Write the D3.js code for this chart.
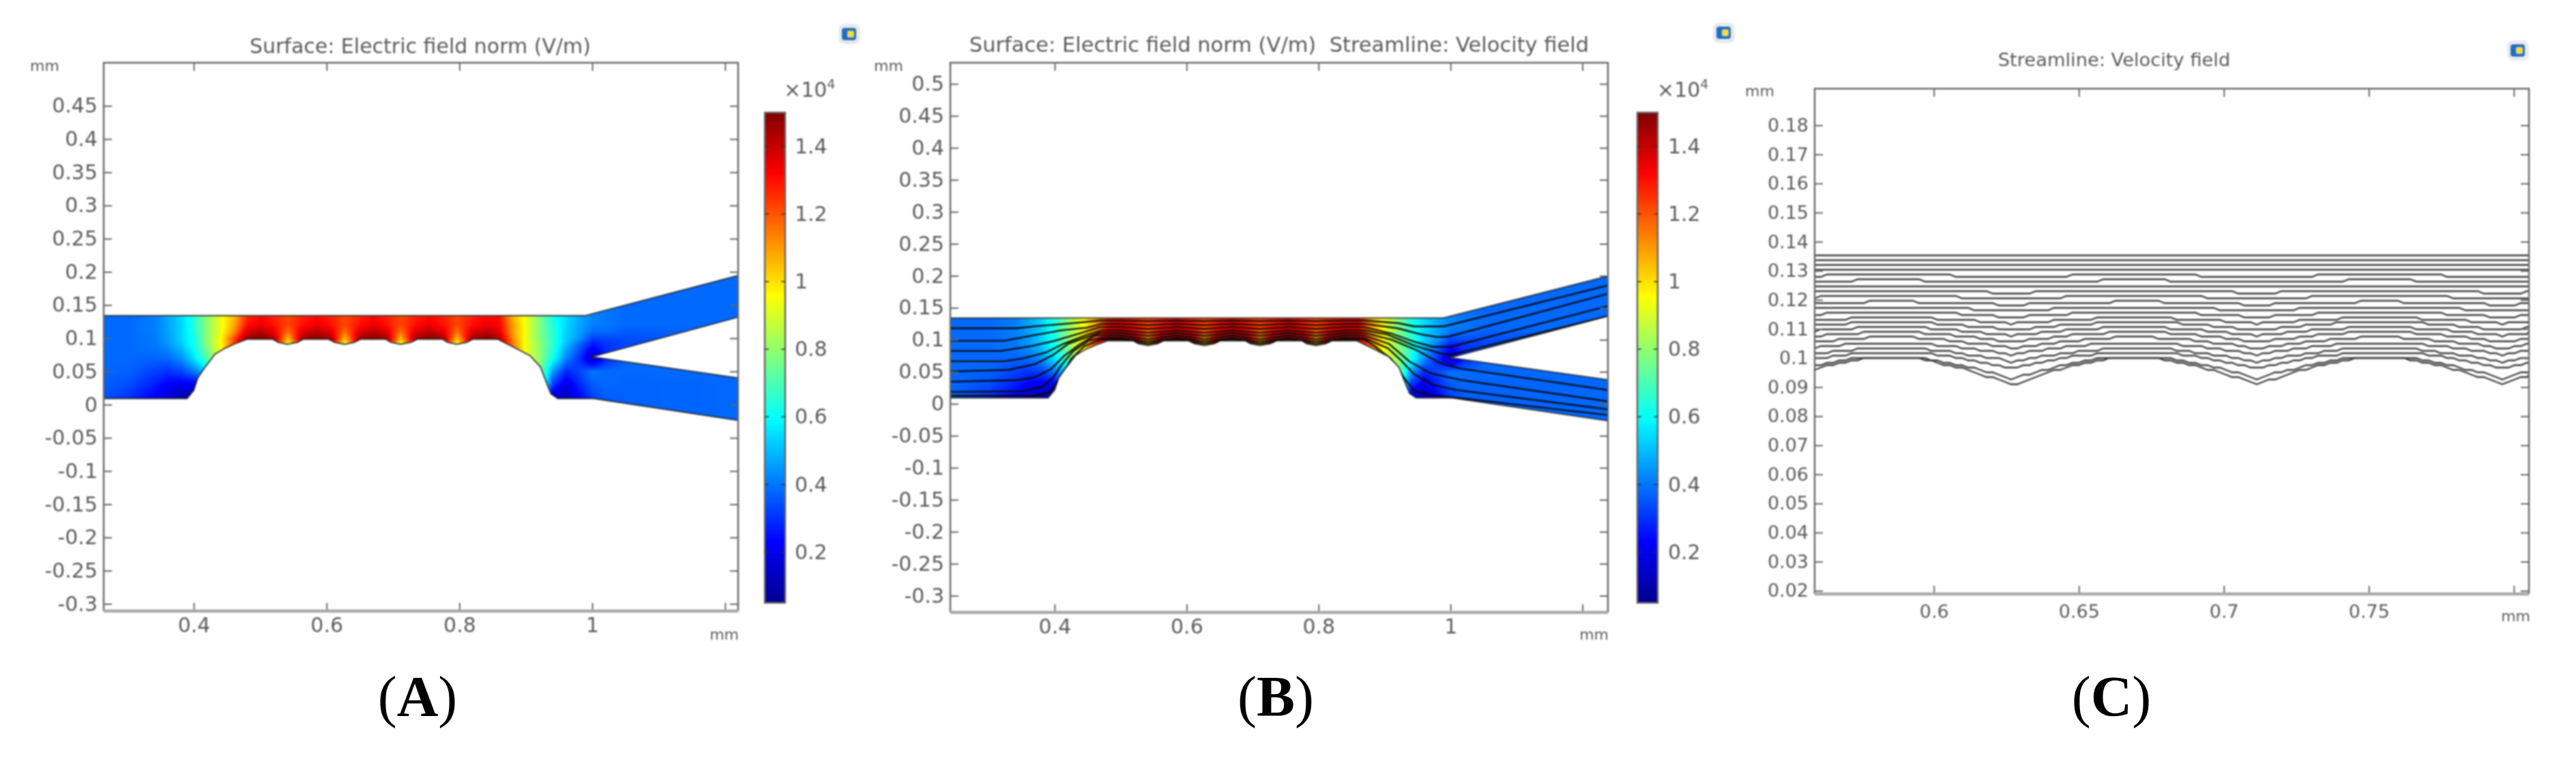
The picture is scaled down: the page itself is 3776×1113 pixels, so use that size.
<!DOCTYPE html>
<html>
<head>
<meta charset="utf-8">
<script src="https://cdn.jsdelivr.net/npm/d3@7"></script>
<style>
  html, body { margin: 0; background: #fff; }
  text { font-family: "DejaVu Sans", sans-serif; fill: #5c5c5c; }
  .soft { filter: blur(0.8px); }
  .label text { font-family: "Liberation Serif", serif; fill: #000; }
</style>
</head>
<body>
<svg id="chart" width="3776" height="1113"></svg>
<script>
// tick labels
var ticksXA = [0.4, 0.6, 0.8, 1, 1.2];
var ticksYA = [0.45, 0.4, 0.35, 0.3, 0.25, 0.2, 0.15, 0.1, 0.05, 0, -0.05, -0.1, -0.15, -0.2, -0.25, -0.3];
var ticksYB = [0.5].concat(ticksYA);
var ticksXC = [0.6, 0.65, 0.7, 0.75, 0.8];
var ticksYC = [0.18, 0.17, 0.16, 0.15, 0.14, 0.13, 0.12, 0.11, 0.1, 0.09, 0.08, 0.07, 0.06, 0.05, 0.04, 0.03, 0.02];
var ticksBar = [0.2, 0.4, 0.6, 0.8, 1, 1.2, 1.4];

// colour table, values in 10^4 V/m
var barStops = [0.05, 0.231, 0.594, 0.956, 1.319, 1.5];
var barColors = ["#00008f", "#0000ff", "#00ffff", "#ffff00", "#ff0000", "#800000"];

// channel outline in mm
var channelOutline = [
  [0.24, 0.134], [0.989, 0.134], [1.2387, 0.1996], [1.2387, 0.137], [0.9995, 0.072],
  [1.2387, 0.0374], [1.2387, -0.0265], [1.002, 0.0092], [0.948, 0.0092], [0.938, 0.016],
  [0.933, 0.028], [0.922, 0.057], [0.906, 0.074], [0.879, 0.088], [0.858, 0.0985],
  [0.82, 0.0985], [0.811, 0.094], [0.796, 0.091], [0.782, 0.094], [0.775, 0.0985],
  [0.7365, 0.0985], [0.727, 0.094], [0.711, 0.091], [0.697, 0.094], [0.689, 0.0985],
  [0.651, 0.0985], [0.642, 0.094], [0.627, 0.091], [0.612, 0.094], [0.603, 0.0985],
  [0.565, 0.0985], [0.556, 0.094], [0.5415, 0.091], [0.527, 0.094], [0.519, 0.0985],
  [0.48, 0.0985], [0.465, 0.093], [0.447, 0.085], [0.432, 0.076], [0.416, 0.055],
  [0.406, 0.04], [0.4, 0.0215], [0.39, 0.0092], [0.24, 0.0092]
];

// field table: one column per fieldX, one entry per fieldY
var fieldY = [-0.03, 0.01, 0.03, 0.05, 0.07, 0.09, 0.095, 0.1, 0.11, 0.12, 0.135, 0.2];
var colBump = [0.85, 0.85, 0.85, 0.85, 0.85, 0.85, 0.98, 1.05, 1.16, 1.22, 1.22, 1.22];
var colEdge = [1.4, 1.4, 1.4, 1.4, 1.4, 1.35, 1.4, 1.45, 1.36, 1.3, 1.27, 1.27];
var colFlat = [1.5, 1.5, 1.5, 1.5, 1.5, 1.5, 1.5, 1.5, 1.42, 1.35, 1.3, 1.3];
var fieldX = [0.24, 0.3, 0.34, 0.36, 0.38, 0.4, 0.42, 0.44, 0.46, 0.48, 0.5, 0.519, 0.5415, 0.563, 0.585, 0.606, 0.627, 0.649, 0.669, 0.69, 0.711, 0.733, 0.754, 0.775, 0.796, 0.818, 0.84, 0.86, 0.88, 0.9, 0.92, 0.94, 0.96, 0.98, 1, 1.02, 1.05, 1.25];
var fieldColumns = [
  [0.38, 0.38, 0.38, 0.38, 0.38, 0.38, 0.38, 0.38, 0.38, 0.38, 0.38, 0.38],
  [0.3, 0.3, 0.34, 0.37, 0.38, 0.38, 0.38, 0.38, 0.38, 0.38, 0.38, 0.38],
  [0.22, 0.22, 0.27, 0.32, 0.37, 0.4, 0.4, 0.4, 0.41, 0.41, 0.41, 0.41],
  [0.16, 0.17, 0.22, 0.3, 0.38, 0.44, 0.45, 0.45, 0.46, 0.46, 0.47, 0.47],
  [0.1, 0.1, 0.2, 0.32, 0.43, 0.51, 0.52, 0.53, 0.53, 0.53, 0.54, 0.54],
  [0.08, 0.08, 0.2, 0.4, 0.55, 0.62, 0.62, 0.62, 0.64, 0.64, 0.65, 0.65],
  [0.3, 0.3, 0.3, 0.52, 0.72, 0.78, 0.8, 0.8, 0.8, 0.8, 0.8, 0.8],
  [0.8, 0.8, 0.8, 0.8, 0.93, 0.95, 0.95, 0.95, 0.93, 0.93, 0.93, 0.93],
  [1.2, 1.2, 1.2, 1.2, 1.2, 1.22, 1.22, 1.22, 1.12, 1.08, 1.05, 1.05],
  [1.45, 1.45, 1.45, 1.45, 1.45, 1.45, 1.45, 1.48, 1.38, 1.3, 1.26, 1.26],
  colFlat, colEdge, colBump, colEdge, colFlat, colEdge, colBump, colEdge, colFlat,
  colEdge, colBump, colEdge, colFlat, colEdge, colBump, colEdge, colFlat,
  [1.42, 1.42, 1.42, 1.42, 1.42, 1.42, 1.42, 1.42, 1.35, 1.32, 1.3, 1.3],
  [1.15, 1.15, 1.15, 1.15, 1.15, 1.15, 1.14, 1.12, 1.1, 1.1, 1.05, 1.05],
  [0.93, 0.93, 0.93, 0.93, 0.93, 0.93, 0.93, 0.93, 0.93, 0.93, 0.92, 0.92],
  [0.8, 0.8, 0.8, 0.8, 0.8, 0.8, 0.8, 0.78, 0.78, 0.78, 0.78, 0.78],
  [0.12, 0.14, 0.3, 0.45, 0.62, 0.66, 0.66, 0.66, 0.65, 0.64, 0.62, 0.62],
  [0.12, 0.12, 0.18, 0.28, 0.42, 0.5, 0.52, 0.52, 0.53, 0.54, 0.54, 0.54],
  [0.22, 0.22, 0.28, 0.33, 0.3, 0.37, 0.4, 0.44, 0.46, 0.47, 0.47, 0.47],
  [0.32, 0.32, 0.36, 0.4, 0.12, 0.25, 0.28, 0.32, 0.38, 0.41, 0.42, 0.42],
  [0.36, 0.36, 0.38, 0.38, 0.28, 0.3, 0.31, 0.33, 0.38, 0.4, 0.4, 0.4],
  [0.37, 0.37, 0.37, 0.38, 0.38, 0.33, 0.33, 0.34, 0.36, 0.38, 0.38, 0.38],
  [0.38, 0.38, 0.38, 0.38, 0.38, 0.38, 0.38, 0.38, 0.38, 0.38, 0.38, 0.38]
];

// panel B streamlines in mm: inlet part, throat part, outlet part
var streamInlet = [
  [[0.24, 0.118], [0.342, 0.118], [0.37, 0.121], [0.411, 0.1245], [0.437, 0.127], [0.469, 0.13]],
  [[0.24, 0.0985], [0.323, 0.0985], [0.37, 0.1075], [0.411, 0.115], [0.449, 0.119], [0.472, 0.125]],
  [[0.24, 0.0825], [0.318, 0.0825], [0.366, 0.0905], [0.4, 0.0985], [0.435, 0.109], [0.469, 0.12]],
  [[0.24, 0.0665], [0.323, 0.0665], [0.352, 0.071], [0.386, 0.08], [0.414, 0.094], [0.449, 0.108], [0.472, 0.115]],
  [[0.24, 0.0505], [0.33, 0.053], [0.37, 0.062], [0.397, 0.076], [0.421, 0.094], [0.452, 0.105], [0.469, 0.111]],
  [[0.24, 0.0345], [0.344, 0.037], [0.37, 0.0415], [0.394, 0.054], [0.414, 0.0745], [0.438, 0.093], [0.462, 0.107]],
  [[0.24, 0.0185], [0.35, 0.0195], [0.38, 0.0265], [0.397, 0.04], [0.411, 0.0615], [0.428, 0.082], [0.452, 0.099], [0.47, 0.103]],
  [[0.24, 0.0125], [0.37, 0.0125], [0.392, 0.018], [0.408, 0.04], [0.425, 0.07], [0.445, 0.09], [0.47, 0.1005]]
];
var throatX = [0.5, 0.5415, 0.585, 0.627, 0.669, 0.711, 0.754, 0.796, 0.84];
var throatFlat = [0.13, 0.125, 0.12, 0.115, 0.111, 0.107, 0.103, 0.1005];
var throatDip = [0.129, 0.123, 0.117, 0.111, 0.106, 0.101, 0.097, 0.0935];
var streamOutlet = [
  [[0.869, 0.13], [0.921, 0.126], [0.945, 0.121], [0.99, 0.121], [1.2387, 0.185]],
  [[0.869, 0.125], [0.92, 0.118], [0.955, 0.1085], [0.9795, 0.1043], [0.997, 0.105], [1.2387, 0.172]],
  [[0.869, 0.12], [0.91, 0.11], [0.945, 0.097], [0.973, 0.089], [1, 0.089], [1.2387, 0.1529]],
  [[0.869, 0.115], [0.905, 0.108], [0.945, 0.091], [0.9865, 0.0783], [1, 0.0766], [1.2387, 0.137]],
  [[0.869, 0.111], [0.911, 0.1], [0.949, 0.0837], [0.983, 0.064], [1.014, 0.0552], [1.2387, 0.0214]],
  [[0.869, 0.107], [0.907, 0.0935], [0.938, 0.0659], [0.969, 0.048], [1.014, 0.0374], [1.2387, 0.0037]],
  [[0.869, 0.103], [0.905, 0.087], [0.925, 0.068], [0.945, 0.046], [0.975, 0.029], [1.01, 0.0215], [1.2387, -0.0088]],
  [[0.869, 0.1005], [0.885, 0.09], [0.91, 0.07], [0.93, 0.04], [0.945, 0.02], [0.97, 0.0135], [1.01, 0.0095], [1.2387, -0.0177]]
];

// panel C streamlines: height over the flat part of the wall and at the cusps
var zoomFlat = [0.1349, 0.1337, 0.132, 0.13, 0.1285, 0.1267, 0.1249, 0.123, 0.1213, 0.1193, 0.1176, 0.1158, 0.1138, 0.1123, 0.1105, 0.1088, 0.107, 0.1052, 0.1033, 0.102, 0.1004, 0.1];
var zoomCusp = [0.1349, 0.1339, 0.132, 0.13, 0.1279, 0.1263, 0.1244, 0.1224, 0.1203, 0.1182, 0.1161, 0.1139, 0.1118, 0.1095, 0.1076, 0.1054, 0.1033, 0.101, 0.0987, 0.0964, 0.0927, 0.0906];
var cuspX = [0.5425, 0.627, 0.7115, 0.796];
var dipOffset = [0, 0.005, 0.01, 0.02, 0.03, 0.0345];
var dipWeight = [1, 0.78, 0.62, 0.3, 0.08, 0];

var svg = d3.select("#chart");
var jet = d3.scaleLinear().domain(barStops).range(barColors).clamp(true);
var fmt = function(d) { return String(d); };

function fieldAt(xv, yv) {
  var i = Math.max(0, Math.min(fieldX.length - 2, d3.bisectRight(fieldX, xv) - 1));
  var j = Math.max(0, Math.min(fieldY.length - 2, d3.bisectRight(fieldY, yv) - 1));
  var tx = (xv - fieldX[i]) / (fieldX[i + 1] - fieldX[i]);
  var ty = (yv - fieldY[j]) / (fieldY[j + 1] - fieldY[j]);
  var a = fieldColumns[i][j] * (1 - ty) + fieldColumns[i][j + 1] * ty;
  var b = fieldColumns[i + 1][j] * (1 - ty) + fieldColumns[i + 1][j + 1] * ty;
  return a * (1 - tx) + b * tx;
}

function drawFrame(g, box, x, y, xTicks, yTicks, fontSize) {
  // the last x tick sits under the "mm" unit and carries no number
  var lastX = xTicks[xTicks.length - 1];
  var xFmt = function(d) { return d === lastX ? "" : fmt(d); };

  g.append("g").attr("transform", "translate(" + box.left + ",0)")
    .call(d3.axisLeft(y).tickValues(yTicks).tickSize(-12).tickPadding(9).tickFormat(fmt));
  g.append("g").attr("transform", "translate(" + box.right + ",0)")
    .call(d3.axisRight(y).tickValues(yTicks).tickSize(-12).tickFormat(""));
  g.append("g").attr("transform", "translate(0," + box.bottom + ")")
    .call(d3.axisBottom(x).tickValues(xTicks).tickSize(-12).tickPadding(box.xLabelGap).tickFormat(xFmt));
  g.append("g").attr("transform", "translate(0," + box.top + ")")
    .call(d3.axisTop(x).tickValues(xTicks).tickSize(-12).tickFormat(""));
  g.selectAll(".domain").remove();
  g.selectAll(".tick line").attr("stroke", "#666").attr("stroke-width", 2);
  g.selectAll(".tick text").style("font-size", fontSize + "px").attr("fill", "#5c5c5c");

  g.append("path")
    .attr("d", "M" + box.left + "," + box.bottom + "V" + box.top + "H" + box.right + "V" + box.bottom)
    .attr("fill", "none").attr("stroke", "#6a6a6a").attr("stroke-width", 2.5);
  g.append("line")
    .attr("x1", box.left).attr("x2", box.right).attr("y1", box.bottom).attr("y2", box.bottom)
    .attr("stroke", "#a8a8a8").attr("stroke-width", 4.5);
}

function drawIcon(g, cx, cy) {
  g.append("rect").attr("x", cx - 16).attr("y", cy - 15).attr("width", 32).attr("height", 30).attr("rx", 9).attr("fill", "#e8eaee");
  g.append("rect").attr("x", cx - 11).attr("y", cy - 9).attr("width", 21).attr("height", 18).attr("rx", 4).attr("fill", "#1d6fc4");
  g.append("rect").attr("x", cx - 3).attr("y", cy - 5).attr("width", 10).attr("height", 10).attr("rx", 2).attr("fill", "#f2d94e");
}

function drawColorbar(g, id, left, right, labelX, expX) {
  var bar = d3.scaleLinear().domain([0.05, 1.5]).range([884, 165]);
  var grad = svg.append("defs").append("linearGradient").attr("id", id)
    .attr("x1", 0).attr("x2", 0).attr("y1", 1).attr("y2", 0);
  barStops.forEach(function(v, i) {
    grad.append("stop").attr("offset", (v - 0.05) / 1.45).attr("stop-color", barColors[i]);
  });
  g.append("rect").attr("x", left).attr("y", bar(1.5)).attr("width", right - left).attr("height", bar(0.05) - bar(1.5))
    .attr("fill", "url(#" + id + ")").attr("stroke", "#666").attr("stroke-width", 2.5);
  var ax = g.append("g").attr("transform", "translate(" + right + ",0)")
    .call(d3.axisRight(bar).tickValues(ticksBar).tickSize(0).tickPadding(labelX - right).tickFormat(fmt));
  ax.select(".domain").remove();
  ax.selectAll("text").style("font-size", "30px");
  g.selectAll(".barTick").data(ticksBar).enter().append("path").attr("class", "barTick")
    .attr("d", function(d) { return "M" + left + "," + bar(d) + "h6M" + right + "," + bar(d) + "h-6"; })
    .attr("stroke", "#333").attr("stroke-width", 1.5);
  var t = g.append("text").attr("x", expX).attr("y", 142).style("font-size", "30px");
  t.append("tspan").text("\u00d710");
  t.append("tspan").attr("dy", -12).style("font-size", "19px").text("4");
}

function drawFieldPanel(id, box, yTicks, title, titleX, titleY, titleSize, bar, withStreams) {
  var g = svg.append("g").attr("class", "soft");
  var x = d3.scaleLinear().domain(box.xDomain).range([box.left, box.right]);
  var y = d3.scaleLinear().domain(box.yDomain).range([box.bottom, box.top]);

  // paint the field from the table, pixel by pixel through the scales
  var w = box.right - box.left, h = box.bottom - box.top;
  var canvas = document.createElement("canvas");
  canvas.width = w; canvas.height = h;
  var ctx = canvas.getContext("2d");
  var img = ctx.createImageData(w, h);
  for (var py = 0; py < h; py++) {
    var yv = y.invert(box.top + py);
    if (yv < -0.03 || yv > 0.2) continue;
    for (var px = 0; px < w; px++) {
      var c = d3.rgb(jet(fieldAt(x.invert(box.left + px), yv)));
      var k = (py * w + px) * 4;
      img.data[k] = c.r; img.data[k + 1] = c.g; img.data[k + 2] = c.b; img.data[k + 3] = 255;
    }
  }
  ctx.putImageData(img, 0, 0);

  var outline = d3.line().x(function(d) { return x(d[0]); }).y(function(d) { return y(d[1]); });
  var defs = svg.append("defs");
  defs.append("clipPath").attr("id", id + "-domain").append("path").attr("d", outline(channelOutline) + "Z");
  defs.append("clipPath").attr("id", id + "-box").append("rect").attr("x", box.left).attr("y", box.top).attr("width", w).attr("height", h);

  var plot = g.append("g").attr("clip-path", "url(#" + id + "-box)");
  plot.append("g").attr("clip-path", "url(#" + id + "-domain)").append("image")
    .attr("x", box.left).attr("y", box.top).attr("width", w).attr("height", h)
    .attr("href", canvas.toDataURL());
  plot.append("path").attr("d", outline(channelOutline) + "Z").attr("fill", "none")
    .attr("stroke", "#222").attr("stroke-opacity", 0.75).attr("stroke-width", 2.2);

  if (withStreams) {
    var lines = plot.append("g").attr("clip-path", "url(#" + id + "-domain)");
    streamInlet.forEach(function(inlet, i) {
      var throat = throatX.map(function(tx, j) { return [tx, j % 2 ? throatDip[i] : throatFlat[i]]; });
      lines.append("path").attr("d", outline(inlet.concat(throat, streamOutlet[i])))
        .attr("fill", "none").attr("stroke", "#0a0a0a").attr("stroke-width", 2.6).attr("stroke-opacity", 0.9);
    });
  }

  drawFrame(g, box, x, y, ticksXA, yTicks, 30);
  g.append("text").attr("x", titleX).attr("y", titleY).attr("text-anchor", "middle").style("font-size", titleSize + "px").text(title);
  g.append("text").attr("x", box.mmYX).attr("y", 104).style("font-size", "22px").text("mm");
  g.append("text").attr("x", box.right + 1).attr("y", 938).attr("text-anchor", "end").style("font-size", "22px").text("mm");
  drawColorbar(g, id + "-bar", bar.left, bar.right, bar.label, bar.exp);
  drawIcon(g, box.iconX, box.iconY);
}

function drawZoomPanel() {
  var box = { left: 2660, right: 3707, top: 130, bottom: 871, xLabelGap: 16 };
  var g = svg.append("g").attr("class", "soft");
  var x = d3.scaleLinear().domain([0.5589, 0.8052]).range([box.left, box.right]);
  var y = d3.scaleLinear().domain([0.0189, 0.1926]).range([box.bottom, box.top]);
  var dip = d3.scaleLinear().domain(dipOffset).range(dipWeight).clamp(true);
  var stepX = d3.range(box.left, box.right, 9).concat(box.right).map(function(p) { return x.invert(p); });

  // the source is a low resolution raster, so lines sit on a coarse pixel grid
  var stepped = d3.line()
    .x(function(d) { return x(d[0]); })
    .y(function(d) { return Math.round(y(d[1]) / 3.5) * 3.5; });

  zoomFlat.forEach(function(flat, i) {
    var pts = stepX.map(function(xv) {
      var dist = d3.min(cuspX, function(c) { return Math.abs(xv - c); });
      return [xv, flat + dip(dist) * (zoomCusp[i] - flat)];
    });
    g.append("path").attr("d", stepped(pts)).attr("fill", "none")
      .attr("stroke", "#3c3c3c").attr("stroke-width", 2.3);
  });

  drawFrame(g, box, x, y, ticksXC, ticksYC, 27);
  g.append("text").attr("x", 3099).attr("y", 97).attr("text-anchor", "middle").style("font-size", "27.3px").text("Streamline: Velocity field");
  g.append("text").attr("x", 2558).attr("y", 141).style("font-size", "22px").text("mm");
  g.append("text").attr("x", 3709).attr("y", 911).attr("text-anchor", "end").style("font-size", "22px").text("mm");
  drawIcon(g, 3691, 74);
}

drawFieldPanel("a",
  { left: 152, right: 1082, top: 92, bottom: 896, xDomain: [0.2644, 1.2197], yDomain: [-0.3108, 0.515], xLabelGap: 10, mmYX: 44, iconX: 1245, iconY: 50 },
  ticksYA, "Surface: Electric field norm (V/m)", 616, 78, 30,
  { left: 1121, right: 1151, label: 1165, exp: 1149 }, false);

drawFieldPanel("b",
  { left: 1393, right: 2357, top: 92, bottom: 898, xDomain: [0.2418, 1.2387], yDomain: [-0.326, 0.533], xLabelGap: 10, mmYX: 1281, iconX: 2527, iconY: 48 },
  ticksYB, "Surface: Electric field norm (V/m)\u00a0\u00a0Streamline: Velocity field", 1875, 76, 30.5,
  { left: 2400, right: 2430, label: 2445, exp: 2429 }, true);

drawZoomPanel();

// panel letters
[["A", 612], ["B", 1870], ["C", 3095]].forEach(function(p) {
  var t = svg.append("g").attr("class", "label").append("text")
    .attr("x", p[1]).attr("y", 1050).attr("text-anchor", "middle").style("font-size", "84px");
  t.append("tspan").text("(");
  t.append("tspan").attr("font-weight", "bold").text(p[0]);
  t.append("tspan").text(")");
});
</script>
</body>
</html>
